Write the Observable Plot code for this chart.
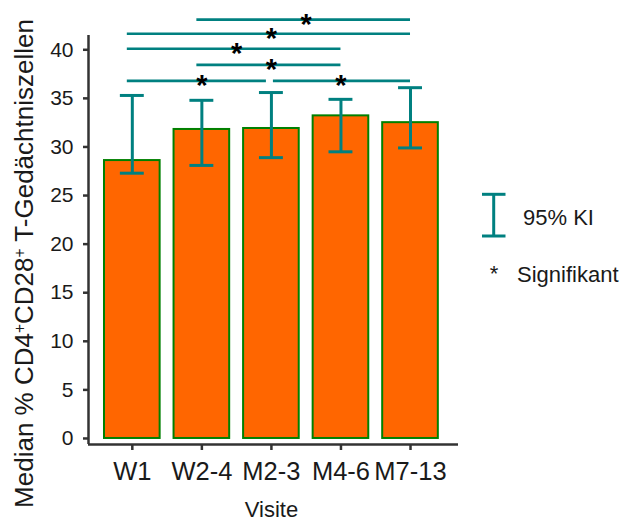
<!DOCTYPE html>
<html><head><meta charset="utf-8">
<script src="https://cdn.jsdelivr.net/npm/d3@7"></script>
<script src="https://cdn.jsdelivr.net/npm/@observablehq/plot@0.6"></script>
<style>
body{margin:0;background:#fff}
svg{font-family:"Liberation Sans",Arial,sans-serif}
</style>
</head><body><div id="chart"></div>
<script>
// ---- data ----
const visits  = ["W1", "W2-4", "M2-3", "M4-6", "M7-13"];
const medians = [28.6, 31.8, 31.9, 33.2, 32.5];
const ciLow   = [27.3, 28.1, 28.9, 29.5, 29.9];
const ciHigh  = [35.3, 34.8, 35.6, 34.9, 36.1];
const sigFrom  = ["W2-4", "W1", "W1", "W2-4", "W1", "M2-3"];
const sigTo    = ["M7-13", "M7-13", "M4-6", "M4-6", "M2-3", "M7-13"];
const sigLevel = [43.1, 41.65, 40.1, 38.45, 36.8, 36.8];
const yTicks = [0, 5, 10, 15, 20, 25, 30, 35, 40];
const yTitle = ["Median % CD4", "+", "CD28", "+", " T-Gedächtniszellen"];
const xTitle = "Visite";
const legendCI = "95% KI";
const legendSig = "Signifikant";

// ---- derived tables ----
const idx = v => visits.indexOf(v);
const bars = visits.map((v, i) => ({visit: v, i, median: medians[i], lo: ciLow[i], hi: ciHigh[i]}));
const sig = sigFrom.map((f, k) => ({from: idx(f), to: idx(sigTo[k]), level: sigLevel[k]}));
sig.forEach(d => {
  d.splitEnd = sig.some(o => o !== d && o.level === d.level && o.from === d.to);
  d.splitStart = sig.some(o => o !== d && o.level === d.level && o.to === d.from);
});

const teal = "#008080", axisColor = "#333333", barFill = "#FF6600", barStroke = "#008000", ink = "#1a1a1a";
const xDom = [-0.63, 4.69], yDom = [-0.62, 41.47];
const barHalf = 0.4, capHalf = 0.172;

const chart = Plot.plot({
  width: 624, height: 521,
  marginLeft: 88, marginRight: 166, marginTop: 35, marginBottom: 77,
  style: {fontFamily: '"Liberation Sans", Arial, sans-serif', background: "white", overflow: "visible"},
  x: {domain: xDom, axis: null},
  y: {domain: yDom, axis: null},
  marks: [
    Plot.rect(bars, {x1: d => d.i - barHalf, x2: d => d.i + barHalf, y1: 0, y2: "median",
      fill: barFill, stroke: barStroke, strokeWidth: 2}),
    Plot.ruleX(bars, {x: "i", y1: "lo", y2: "hi", stroke: teal, strokeWidth: 3}),
    Plot.ruleY(bars, {x1: d => d.i - capHalf, x2: d => d.i + capHalf, y: "lo", stroke: teal, strokeWidth: 3}),
    Plot.ruleY(bars, {x1: d => d.i - capHalf, x2: d => d.i + capHalf, y: "hi", stroke: teal, strokeWidth: 3}),
    ...sig.map(d => Plot.ruleY([d], {x1: "from", x2: "to", y: "level", stroke: teal, strokeWidth: 2.6,
      insetLeft: d.splitStart ? 2 : -5, insetRight: d.splitEnd ? 5 : 0})),
    Plot.text(sig, {x: d => (d.from + d.to) / 2, y: "level", text: () => "*", fontSize: 29, fontWeight: "bold", dy: 5, fill: "black"}),
    Plot.axisY({ticks: yTicks, tickSize: 5, tickPadding: 10, fontSize: 21, stroke: axisColor, strokeWidth: 2.5, fill: ink, label: null}),
    Plot.axisX({ticks: visits.map((v, i) => i), tickFormat: i => visits[i], tickSize: 6, tickPadding: 11, fontSize: 25.5,
      stroke: axisColor, strokeWidth: 2.5, fill: ink, label: null}),
    Plot.ruleX([xDom[0]], {stroke: axisColor, strokeWidth: 2.5}),
    Plot.ruleY([yDom[0]], {stroke: axisColor, strokeWidth: 2.5})
  ]
});

const svg = d3.select(chart);
// y title with superscripts
const yt = svg.append("text")
  .attr("transform", "translate(33,263.5) rotate(-90)")
  .attr("text-anchor", "middle").attr("font-size", 26).attr("fill", ink);
yTitle.forEach(s => {
  const t = yt.append("tspan").text(s);
  if (s === "+") t.attr("baseline-shift", "super").attr("font-size", "60%");
});
// x title
svg.append("text").attr("x", 271.5).attr("y", 517).attr("text-anchor", "middle")
  .attr("font-size", 22).attr("fill", ink).text(xTitle);
// legend
const lg = svg.append("g").attr("text-anchor", "start");
lg.append("line").attr("x1", 493.7).attr("x2", 493.7).attr("y1", 194.3).attr("y2", 236).attr("stroke", teal).attr("stroke-width", 3);
lg.append("line").attr("x1", 482).attr("x2", 505.5).attr("y1", 194.3).attr("y2", 194.3).attr("stroke", teal).attr("stroke-width", 3);
lg.append("line").attr("x1", 482).attr("x2", 505.5).attr("y1", 236).attr("y2", 236).attr("stroke", teal).attr("stroke-width", 3);
lg.append("text").attr("x", 523).attr("y", 225).attr("font-size", 22).attr("fill", ink).text(legendCI);
lg.append("text").attr("x", 494).attr("y", 281).attr("text-anchor", "middle").attr("font-size", 22).attr("fill", ink).text("*");
lg.append("text").attr("x", 517).attr("y", 281.7).attr("font-size", 22).attr("fill", ink).text(legendSig);

document.getElementById("chart").appendChild(chart);
</script>
</body></html>
